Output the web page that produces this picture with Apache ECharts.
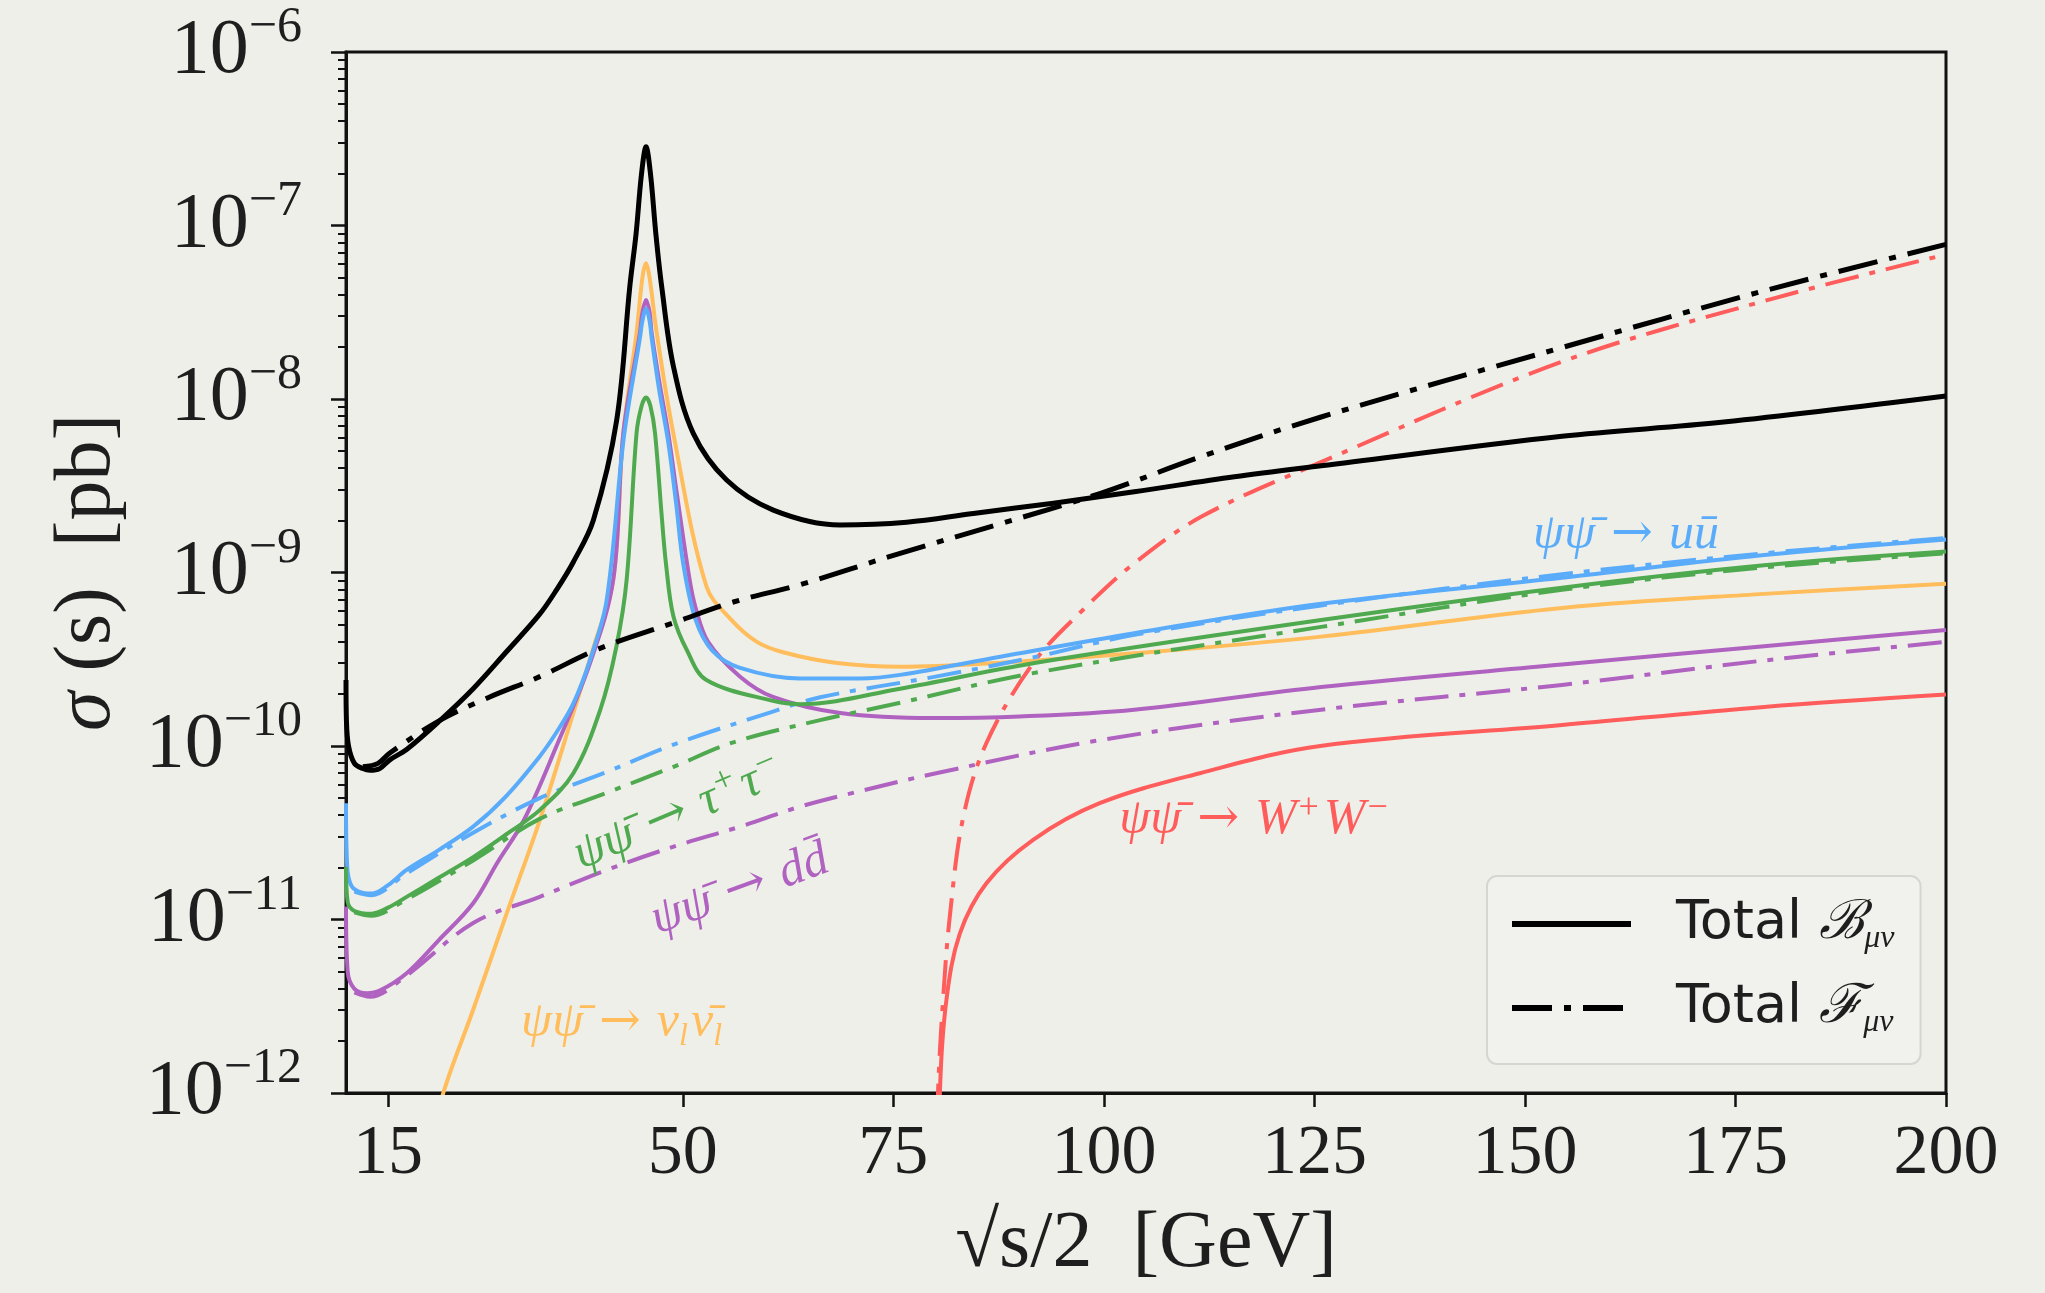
<!DOCTYPE html>
<html>
<head>
<meta charset="utf-8">
<script src="https://cdn.jsdelivr.net/npm/echarts@6/dist/echarts.min.js"></script>
<style>
html,body{margin:0;padding:0;background:#efefea;}
#c{width:2045px;height:1293px;}
</style>
</head>
<body>
<div id="c"></div>
<script>
// ---------- DATA (x = sqrt(s)/2 in GeV, y = sigma(s) in pb) ----------
const xTicks = [15, 50, 75, 100, 125, 150, 175, 200];
const yTicks = [1e-12, 1e-11, 1e-10, 1e-9, 1e-8, 1e-7, 1e-6];

// Total B_{mu nu} (black solid)
const totalB = [[10.0,2.40e-10],[10.05,1.41e-10],[10.3,1.00e-10],[11,7.94e-11],[12,7.41e-11],[12.85,7.24e-11],[14,7.41e-11],[15.2,8.32e-11],[17.2,9.55e-11],[21,1.38e-10],[25.1,2.14e-10],[29,3.47e-10],[33,5.75e-10],[35,7.94e-10],[37,1.15e-9],[39.37,2.00e-9],[42.15,7.59e-9],[43.7,4.44e-8],[44.44,8.91e-8],[45.1,2.00e-7],[45.63,2.84e-7],[46.15,2.00e-7],[46.8,8.91e-8],[47.49,4.44e-8],[48.87,1.55e-8],[51.24,6.34e-9],[55.2,3.41e-9],[60.74,2.29e-9],[68.66,1.88e-9],[76.58,1.95e-9],[84.5,2.19e-9],[94,2.51e-9],[103.6,2.92e-9],[115.5,3.56e-9],[125.8,4.12e-9],[154.4,6.10e-9],[173.6,7.36e-9],[200,1.04e-8]];
// Total F_{mu nu} (black dash-dot)
const totalF = [[12.0,7.59e-11],[13.8,7.94e-11],[15.2,9.12e-11],[21.2,1.41e-10],[27,1.91e-10],[33,2.51e-10],[40,3.63e-10],[48.9,5.13e-10],[56,6.76e-10],[63.9,8.51e-10],[75.8,1.29e-9],[87.7,1.91e-9],[99.6,2.86e-9],[111.6,4.66e-9],[125.7,7.85e-9],[154.4,1.98e-8],[178.4,4.20e-8],[200,7.78e-8]];
// psi psibar -> u ubar
const uuB = [[10.0,4.68e-11],[10.15,2.00e-11],[10.6,1.58e-11],[11.5,1.45e-11],[13.05,1.41e-11],[15,1.58e-11],[17.2,1.93e-11],[21,2.51e-11],[25.1,3.43e-11],[29,5.13e-11],[33,8.71e-11],[35,1.20e-10],[37,1.76e-10],[39,3.16e-10],[40.95,6.92e-10],[43,6.03e-9],[44.9,2.24e-8],[45.2,2.82e-8],[45.63,3.31e-8],[46.05,2.82e-8],[46.3,2.24e-8],[47.2,1.12e-8],[48.27,5.62e-9],[49.2,2.51e-9],[50.05,1.12e-9],[51.5,5.37e-10],[53.5,3.55e-10],[56.8,2.82e-10],[63.9,2.45e-10],[71,2.45e-10],[75.8,2.57e-10],[87.7,3.27e-10],[103.6,4.47e-10],[125.8,6.61e-10],[154.4,9.33e-10],[178.4,1.26e-9],[200,1.55e-9]];
const uuF = [[11,1.45e-11],[13,1.38e-11],[17,1.82e-11],[25.1,3.16e-11],[33,5.01e-11],[40.95,7.08e-11],[48.9,1.02e-10],[60.7,1.58e-10],[66.3,1.91e-10],[80,2.51e-10],[91.6,3.24e-10],[103.6,4.37e-10],[125.8,6.46e-10],[154.4,9.77e-10],[178.4,1.29e-9],[200,1.58e-9]];
// psi psibar -> tau+ tau-
const ttB = [[10.0,2.00e-11],[10.2,1.26e-11],[11,1.12e-11],[13.05,1.08e-11],[15,1.17e-11],[17.2,1.35e-11],[21,1.74e-11],[25.1,2.29e-11],[29,3.09e-11],[33,4.27e-11],[37,6.97e-11],[40.2,1.62e-10],[42.1,3.72e-10],[43.33,9.12e-10],[44.5,6.34e-9],[45.1,9.12e-9],[45.63,1.02e-8],[46.15,9.12e-9],[46.7,6.34e-9],[47.5,2.09e-9],[48.0,1.12e-9],[48.87,5.62e-10],[50.5,3.55e-10],[52.8,2.40e-10],[60.7,1.82e-10],[63.9,1.74e-10],[75.8,2.14e-10],[91.6,3.00e-10],[125.8,5.32e-10],[154.4,8.17e-10],[178.4,1.10e-9],[200,1.32e-9]];
const ttF = [[11,1.10e-11],[13,1.05e-11],[17,1.29e-11],[25.1,2.19e-11],[33,3.80e-11],[40.95,5.37e-11],[48.9,7.59e-11],[56,1.05e-10],[66.3,1.41e-10],[75,1.74e-10],[91.6,2.63e-10],[125.8,4.86e-10],[154.4,7.94e-10],[178.4,1.07e-9],[200,1.29e-9]];
// psi psibar -> d dbar
const ddB = [[10.0,1.19e-11],[10.2,5.01e-12],[11,3.98e-12],[12.45,3.76e-12],[14,3.89e-12],[17.2,4.90e-12],[21,7.59e-12],[25.1,1.24e-11],[28,2.14e-11],[31.1,3.72e-11],[35,1.00e-10],[39,3.02e-10],[41.74,9.12e-10],[42.93,6.34e-9],[44.9,2.40e-8],[45.2,3.16e-8],[45.63,3.72e-8],[46.05,3.16e-8],[46.3,2.40e-8],[47.2,1.26e-8],[48.27,6.34e-9],[49.3,2.82e-9],[50.8,9.12e-10],[51.5,6.31e-10],[53,3.98e-10],[56.8,2.51e-10],[60.7,1.92e-10],[68.7,1.55e-10],[79.8,1.45e-10],[90,1.48e-10],[103.6,1.62e-10],[125.8,2.19e-10],[154.4,2.95e-10],[178.4,3.76e-10],[200,4.66e-10]];
const ddF = [[11,3.80e-12],[12.85,3.59e-12],[17,4.68e-12],[25.1,9.55e-12],[33,1.35e-11],[40.95,1.93e-11],[48.9,2.63e-11],[56.8,3.43e-11],[63.9,4.47e-11],[70.2,5.37e-11],[79.8,6.92e-11],[99.5,1.08e-10],[125.8,1.62e-10],[154.4,2.25e-10],[178.4,3.11e-10],[200,3.98e-10]];
// psi psibar -> nu_l nubar_l
const nnB = [[20.5,5.62e-13],[21.55,1.00e-12],[25.1,3.02e-12],[29.07,1.08e-11],[33,3.72e-11],[37,1.55e-10],[39.4,3.72e-10],[41.74,9.12e-10],[42.93,6.34e-9],[44.5,2.40e-8],[45.2,5.01e-8],[45.63,6.05e-8],[46.05,5.01e-8],[46.9,2.40e-8],[48.87,6.34e-9],[52.8,8.32e-10],[55.7,5.37e-10],[58.8,3.98e-10],[61.9,3.47e-10],[68.1,3.02e-10],[75.8,2.86e-10],[87.7,3.02e-10],[103.6,3.42e-10],[125.8,4.27e-10],[154.4,6.25e-10],[178.4,7.53e-10],[200,8.61e-10]];
// psi psibar -> W+ W-
const wwB = [[80.42,3.16e-13],[80.54,1.05e-12],[81.3,3.44e-12],[82.9,8.32e-12],[86.05,1.62e-11],[91.6,2.88e-11],[99.5,4.68e-11],[111.4,6.97e-11],[125.7,1.00e-10],[154.4,1.32e-10],[178.4,1.68e-10],[200,1.98e-10]];
const wwF = [[80.15,3.16e-13],[80.3,1.00e-12],[80.9,3.44e-12],[81.7,1.04e-11],[83.3,3.89e-11],[86.05,1.04e-10],[91.6,3.00e-10],[97.5,6.08e-10],[103.6,1.13e-9],[111.6,2.10e-9],[125.7,4.31e-9],[154.4,1.64e-8],[178.4,3.67e-8],[200,6.81e-8]];

// ---------- STYLE ----------
const SERIF = "'Liberation Serif','DejaVu Serif',serif";
const SANS = "'DejaVu Sans',sans-serif";
const C = {black:'#000000', blue:'#5aacfa', green:'#4fa94f', purple:'#b062c0', orange:'#ffbd5c', red:'#ff5c5c'};
const DASH_BLACK = [40, 12, 7, 12];
const DASH_COL = [34, 11, 6, 11];

const yMinor = [];
for (let d = -12; d < -6; d++) for (let m = 2; m <= 9; m++) yMinor.push(m * Math.pow(10, d));

function line(name, data, color, width, dash, z) {
  return {
    name: name, type: 'line', data: data, symbol: 'none', showSymbol: false,
    smooth: 0.35, clip: true, silent: true, z: z,
    lineStyle: {color: color, width: width, type: dash || 'solid', cap: 'butt', join: 'round'},
    itemStyle: {color: color}
  };
}

const series = [
  line('W+W- F', wwF, C.red, 4, DASH_COL, 2),
  line('W+W- B', wwB, C.red, 4, null, 2),
  line('dd F', ddF, C.purple, 4, DASH_COL, 3),
  line('nn B', nnB, C.orange, 4, null, 3),
  line('dd B', ddB, C.purple, 4, null, 3),
  line('tt F', ttF, C.green, 4, DASH_COL, 4),
  line('uu F', uuF, C.blue, 4, DASH_COL, 4),
  line('uu B', uuB, C.blue, 4, null, 4),
  line('tt B', ttB, C.green, 4, null, 4),
  line('Total B', totalB, C.black, 5, null, 6),
  line('Total F', totalF, C.black, 5, DASH_BLACK, 6)
];

const option = {
  animation: false,
  backgroundColor: '#efefea',
  grid: {left: 346, right: 99, top: 52, bottom: 200, show: true, borderColor: '#111', borderWidth: 3, backgroundColor: 'transparent', outerBoundsMode: 'none', containLabel: false},
  xAxis: {
    type: 'value', min: 10, max: 200,
    axisLine: {lineStyle: {color: '#111', width: 3}},
    axisTick: {show: true, customValues: xTicks, length: 14, lineStyle: {color: '#111', width: 2.5}},
    axisLabel: {customValues: xTicks, fontFamily: SERIF, fontSize: 70, color: '#1e1e1e', margin: 27},
    splitLine: {show: false},
    name: '√s/2  [GeV]', nameLocation: 'middle', nameGap: 104,
    nameTextStyle: {fontFamily: SERIF, fontSize: 80, lineHeight: 96, color: '#1e1e1e'}
  },
  yAxis: [
    {
      type: 'log', logBase: 10, min: 1e-12, max: 1e-6, position: 'left',
      axisLine: {show: true, lineStyle: {color: '#111', width: 3}},
      axisTick: {show: true, customValues: yTicks, length: 15, lineStyle: {color: '#111', width: 2.5}},
      axisLabel: {
        customValues: yTicks, margin: 44,
        formatter: function (v) { const e = Math.round(Math.log10(v)); return '{b|10}{s|\u2212' + Math.abs(e) + '}'; },
        rich: {
          b: {fontFamily: SERIF, fontSize: 78, lineHeight: 98, color: '#1e1e1e'},
          s: {fontFamily: SERIF, fontSize: 50, lineHeight: 50, verticalAlign: 'top', color: '#1e1e1e'}
        }
      },
      splitLine: {show: false},
      name: '{i|σ}{r| (s)  [pb]}', nameLocation: 'middle', nameGap: 210, nameRotate: 90,
      nameTextStyle: {rich: {
        i: {fontFamily: SERIF, fontStyle: 'italic', fontSize: 80, lineHeight: 96, color: '#1e1e1e'},
        r: {fontFamily: SERIF, fontSize: 80, lineHeight: 96, color: '#1e1e1e'}
      }}
    },
    {
      type: 'log', logBase: 10, min: 1e-12, max: 1e-6, position: 'left',
      axisLine: {show: false},
      axisTick: {show: true, customValues: yMinor, length: 8, lineStyle: {color: '#111', width: 2}},
      axisLabel: {show: false},
      splitLine: {show: false}
    }
  ],
  legend: {
    data: ['Total B', 'Total F'],
    orient: 'vertical', left: 1487, top: 876,
    padding: [21, 26, 25, 22], itemGap: 26, itemWidth: 119, itemHeight: 14,
    backgroundColor: '#f1f1ed', borderColor: '#d6d6d1', borderWidth: 2, borderRadius: 10,
    selectedMode: false,
    itemStyle: {opacity: 0},
    lineStyle: {width: 6},
    formatter: function (n) {
      return n === 'Total B' ? '{t|Total }{c|ℬ}{s|μν}' : '{t|Total }{c|ℱ}{s|μν}';
    },
    textStyle: {
      rich: {
        t: {fontFamily: SANS, fontSize: 54, lineHeight: 62, color: '#1e1e1e', padding: [0, 0, 0, 40]},
        c: {fontFamily: "'DejaVu Serif',serif", fontStyle: 'italic', fontSize: 54, lineHeight: 62, color: '#1e1e1e'},
        s: {fontFamily: SERIF, fontStyle: 'italic', fontSize: 32, lineHeight: 32, verticalAlign: 'bottom', color: '#1e1e1e'}
      }
    }
  },
  series: series
};

const chart = echarts.init(document.getElementById('c'), null, {renderer: 'canvas'});
chart.setOption(option);

// ---------- curve annotations (anchored in data coordinates) ----------
const PB = 'ψψ\u0304';
const curveLabels = [
  {text: '{m|' + PB + '}{a| → }{m|uu\u0304}', x: 162.0, y: 1.64e-9, color: C.blue, rot: 0},
  {text: '{m|' + PB + '}{a| → }{m|τ}{sup|+}{m|τ}{sup|\u2212}', x: 49.66, y: 4.11e-11, color: C.green, rot: 23},
  {text: '{m|' + PB + '}{a| → }{m|dd\u0304}', x: 56.79, y: 1.48e-11, color: C.purple, rot: 20},
  {text: '{m|' + PB + '}{a| → }{m|ν}{sub|l}{m|ν\u0304}{sub|l}', x: 42.9, y: 2.53e-12, color: C.orange, rot: 0},
  {text: '{m|' + PB + '}{a| → }{m|W}{sup|+}{m|W}{sup|\u2212}', x: 118.06, y: 3.74e-11, color: C.red, rot: 0}
];
const graphics = curveLabels.map(function (l) {
  const p = chart.convertToPixel({xAxisIndex: 0, yAxisIndex: 0}, [l.x, l.y]);
  return {
    type: 'text', x: p[0], y: p[1], rotation: l.rot * Math.PI / 180, z: 10, silent: true,
    style: {
      text: l.text, fill: l.color, align: 'center', verticalAlign: 'middle',
      rich: {
        m: {fontFamily: SERIF, fontStyle: 'italic', fontSize: 50, lineHeight: 60, fill: l.color},
        a: {fontFamily: "'DejaVu Serif',serif", fontSize: 50, lineHeight: 60, fill: l.color},
        sup: {fontFamily: SERIF, fontSize: 36, lineHeight: 36, verticalAlign: 'top', fill: l.color, padding: [0, 5, 0, 2]},
        sub: {fontFamily: SERIF, fontStyle: 'italic', fontSize: 32, lineHeight: 32, verticalAlign: 'bottom', fill: l.color, padding: [0, 3, 0, 0]}
      }
    }
  };
});
chart.setOption({graphic: graphics});
</script>
</body>
</html>
